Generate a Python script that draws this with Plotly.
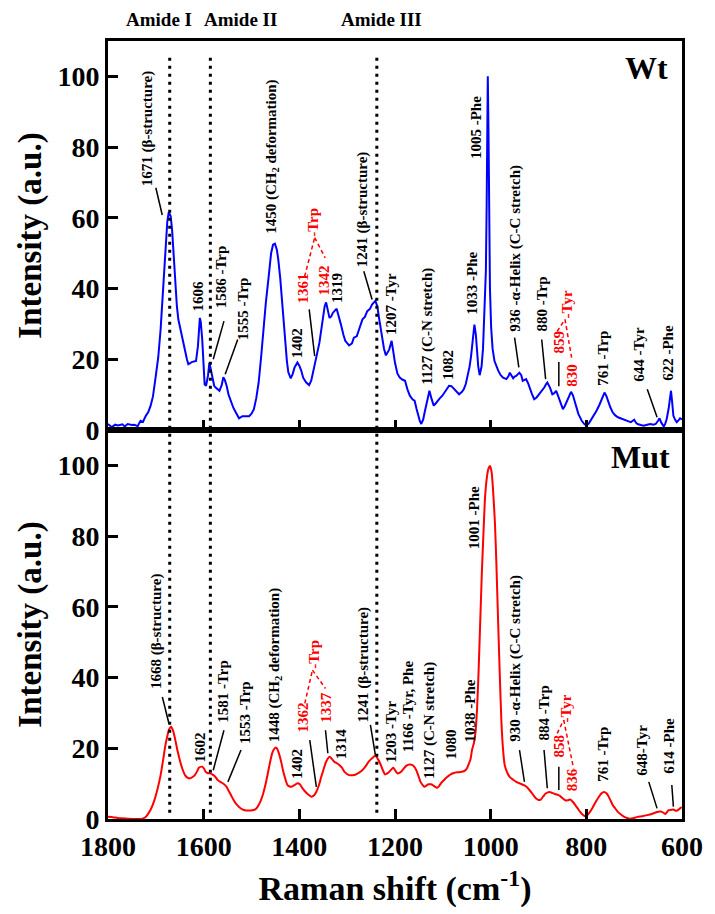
import plotly.graph_objects as go

# ---------------- data ----------------
wt_shift = [1800, 1792, 1785, 1779, 1770, 1765, 1759, 1750, 1745, 1738, 1732, 1727, 1721, 1716, 1711, 1706,
            1701, 1695, 1690, 1685, 1680, 1676, 1673, 1669, 1666, 1660, 1656, 1653, 1648, 1644, 1639, 1635,
            1632, 1628, 1625, 1616, 1612, 1608, 1606, 1603, 1600, 1598, 1595, 1591, 1588, 1585, 1582, 1578,
            1575, 1567, 1562, 1559, 1556, 1552, 1548, 1543, 1538, 1533, 1526, 1519, 1512, 1505, 1500, 1495,
            1490, 1485, 1480, 1475, 1470, 1464, 1459, 1455, 1451, 1447, 1444, 1440, 1437, 1433, 1430, 1426,
            1423, 1418, 1414, 1410, 1404, 1400, 1396, 1392, 1386, 1379.5, 1375, 1371, 1364, 1358, 1351, 1347,
            1344, 1340, 1337, 1333, 1330, 1322, 1318, 1313, 1308, 1304, 1296, 1290, 1286, 1280, 1275, 1268,
            1263, 1258, 1252, 1248, 1241, 1237, 1234, 1230, 1227, 1223, 1219, 1212, 1207, 1204, 1200, 1195,
            1190, 1184, 1179, 1174, 1169, 1163, 1159, 1155, 1152, 1148, 1145, 1141, 1138, 1133, 1128, 1124,
            1119, 1115, 1111, 1106, 1101, 1094, 1087, 1082, 1077, 1072, 1066, 1060, 1056, 1052, 1048, 1044,
            1041, 1037, 1034, 1031, 1029, 1026, 1023, 1019, 1016, 1013, 1010, 1008.5, 1007.5, 1006, 1004.5,
            1003, 1001.5, 999, 996, 992, 988, 984, 979, 974, 967, 963, 960, 956, 953, 950, 946.6, 943, 940,
            936, 933, 929, 926, 922, 919, 914, 909, 904, 899, 893, 888, 884, 881.5, 876, 871, 867, 863, 860,
            856, 852, 849, 845, 840, 836, 832, 828, 825, 820, 816.5, 812, 809.6, 805, 800, 795, 789, 784, 779,
            773, 768.5, 765, 762, 758, 755, 750, 745, 740, 734, 727, 720, 713, 707, 703, 700, 696, 693, 686,
            680, 673, 666, 660, 655, 650, 647, 643, 638, 635, 632, 628, 625, 623, 621, 618, 614, 611, 607,
            604, 600]
wt_intensity = [1.7, 0.8, 1.5, 1.3, 1.6, 1.0, 1.7, 1.4, 1.5, 1.1, 2.6, 2.3, 4.0, 5.0, 6.8, 9.5,
                14.4, 20.5, 28.5, 40.0, 52.0, 59.0, 61.6, 60.5, 56.6, 42.5, 35.0, 31.3, 28.0, 25.6, 22.8, 20.0,
                18.6, 19.0, 19.2, 19.5, 23.7, 31.7, 30.5, 25.6, 17.0, 12.9, 12.5, 15.3, 19.0, 17.0, 14.4, 12.5,
                12.0, 11.1, 12.8, 14.9, 14.2, 12.5, 10.0, 7.8, 6.3, 5.0, 3.3, 3.9, 3.8, 3.9, 4.6, 5.9,
                9.0, 13.5, 20.5, 28.5, 36.0, 43.5, 50.0, 52.4, 52.7, 51.0, 48.2, 43.0, 37.9, 31.0, 24.8, 19.5,
                16.3, 14.6, 15.8, 17.7, 19.1, 18.2, 16.8, 14.8, 13.5, 12.7, 14.0, 16.3, 20.9, 24.7, 31.3, 35.0,
                36.1, 33.5, 31.7, 32.2, 33.1, 34.3, 32.5, 29.8, 27.0, 25.2, 23.9, 24.5, 26.1, 26.5, 28.5, 31.3,
                32.0, 33.6, 34.3, 35.5, 36.5, 35.0, 32.2, 28.5, 25.6, 23.0, 21.1, 22.8, 25.2, 22.0, 19.0, 16.0,
                14.8, 14.2, 13.9, 11.5, 9.7, 8.6, 8.3, 6.0, 4.1, 2.5, 1.7, 3.0, 5.0, 8.5, 11.1, 9.0,
                6.9, 7.5, 8.3, 9.0, 9.7, 11.0, 12.5, 12.4, 11.6, 10.8, 10.1, 10.8, 11.6, 13.0, 15.3, 18.0,
                20.9, 26.0, 29.8, 27.0, 22.8, 18.0, 15.5, 18.0, 23.0, 32.0, 45.0, 62.0, 82.0, 100.0, 84.0,
                62.0, 40.0, 29.0, 23.0, 19.5, 17.8, 16.7, 15.5, 14.8, 14.4, 15.2, 16.2, 15.2, 14.6, 15.1, 15.3, 15.8, 16.2,
                15.5, 13.9, 14.2, 14.4, 13.3, 12.0, 10.3, 8.7, 9.2, 10.1, 11.0, 12.0, 13.0, 13.4, 12.0, 10.1, 10.4, 11.1, 10.0,
                8.7, 7.0, 5.9, 6.8, 8.2, 9.8, 10.8, 9.8, 8.2, 6.2, 4.5, 3.3, 2.6, 1.8, 1.2, 1.8, 3.1, 4.1, 5.4,
                7.0, 8.7, 10.0, 10.6, 9.6, 8.2, 6.5, 5.0, 4.2, 3.6, 3.3, 2.9, 2.5, 2.2, 2.7, 2.9, 2.0, 1.7, 1.4,
                1.2, 1.5, 1.7, 1.5, 1.7, 2.6, 3.3, 2.0, 1.0, 1.8, 3.1, 6.0, 9.5, 11.1, 8.5, 4.0, 2.8, 2.2, 2.8,
                3.3, 3.0]

mut_shift = [1800, 1790, 1780, 1773, 1760, 1745, 1735, 1728, 1722, 1718, 1711, 1704, 1697, 1690, 1685, 1680,
             1676, 1673, 1668, 1664, 1660, 1655, 1649, 1644, 1639, 1634, 1629, 1624, 1618.5, 1614, 1610, 1603,
             1599, 1596, 1592, 1588, 1583, 1579.5, 1575, 1570.6, 1565, 1560, 1552, 1548, 1543, 1538, 1533, 1526,
             1519, 1512, 1505.5, 1498, 1492, 1487, 1481.5, 1476, 1471, 1466, 1461, 1457, 1454, 1449, 1446, 1442.5,
             1438, 1433.6, 1429, 1424.7, 1420, 1416.5, 1410, 1404, 1399, 1392.5, 1386, 1380, 1374.7, 1369, 1364.4, 1359,
             1354, 1349, 1344, 1337, 1332, 1327, 1322, 1316.5, 1311, 1306, 1301, 1296, 1289, 1282, 1275, 1268.5,
             1262, 1255, 1248, 1241, 1236, 1231, 1226, 1220.6, 1216, 1211.7, 1207, 1203.5, 1199, 1194.6, 1190, 1186.3,
             1181, 1176, 1170, 1164.4, 1160, 1155.5, 1151, 1146.6, 1142, 1138.4, 1134, 1129.5, 1125, 1121, 1116, 1112,
             1108, 1104, 1099, 1094, 1088, 1083.6, 1077, 1070, 1063, 1056, 1051, 1046, 1042, 1039, 1035, 1032,
             1028.5, 1025.4, 1022, 1018.5, 1015, 1011.7, 1008, 1004.8, 1001.4, 998, 995, 991, 988, 984.3, 981, 977.4,
             974, 970.6, 965, 960.3, 953, 946.6, 938, 929.5, 924, 919, 912, 905, 900, 895.3, 890, 885,
             876.8, 870, 864.4, 859, 854, 849, 844, 839, 833.6, 828, 823, 818, 813, 808, 802.8, 797,
             792.5, 787, 782.2, 775, 768.6, 764, 761.7, 758, 754.9, 750, 744.6, 739, 734.3, 727, 720.6, 715,
             710.3, 700, 693.2, 683, 672.7, 662, 652, 645, 641.8, 638, 635, 631, 628, 622, 617.9, 612.4,
             608, 604.2, 600.8]
mut_intensity = [0.65, 0.5, 0.3, 0.2, 0.1, 0.0, 0.0, 0.1, 0.5, 1.1, 2.6, 4.9, 8.2, 12.4, 16.5, 20.9,
                 23.4, 25.1, 26.1, 25.0, 22.8, 19.5, 16.2, 14.0, 12.4, 11.7, 11.5, 11.8, 12.4, 13.4, 14.5, 14.8,
                 14.2, 13.4, 13.0, 12.9, 12.7, 12.4, 11.8, 11.0, 10.5, 10.1, 9.1, 8.0, 6.8, 5.5, 4.4, 3.4,
                 2.7, 2.4, 2.4, 2.5, 2.7, 3.5, 4.9, 7.0, 9.6, 12.8, 16.2, 18.5, 19.5, 20.2, 19.8, 18.5,
                 16.2, 13.4, 11.2, 9.6, 9.2, 9.1, 9.6, 10.1, 9.8, 8.5, 7.5, 6.8, 6.3, 6.7, 7.7, 9.6,
                 12.0, 14.2, 16.2, 17.6, 17.0, 16.2, 15.8, 15.3, 14.5, 13.4, 12.8, 12.4, 12.4, 12.6, 13.1, 13.8,
                 14.8, 16.2, 17.2, 17.9, 17.0, 15.7, 14.0, 12.6, 12.9, 13.4, 14.1, 14.5, 13.6, 12.9, 13.1, 13.5,
                 14.4, 15.1, 15.4, 15.3, 14.8, 13.8, 12.2, 10.5, 9.6, 9.1, 9.5, 9.8, 9.8, 9.6, 9.1, 8.8,
                 9.3, 10.1, 10.8, 11.5, 12.2, 12.6, 13.0, 13.2, 13.3, 13.5, 14.0, 15.5, 17.0, 19.5, 21.5, 24.2,
                 31.0, 41.2, 55.0, 69.4, 81.0, 91.0, 96.5, 99.0, 99.8, 98.1, 93.0, 83.5, 72.0, 55.3, 41.0, 27.0,
                 19.5, 15.2, 13.0, 11.9, 11.1, 10.5, 10.0, 9.5, 9.0, 8.2, 7.0, 5.8, 5.4, 5.5, 6.4, 7.2,
                 7.6, 7.3, 7.0, 6.8, 6.4, 5.8, 5.3, 5.3, 5.5, 4.8, 3.9, 3.0, 2.0, 1.3, 0.8, 1.2,
                 2.0, 3.2, 4.4, 6.0, 7.2, 7.6, 7.6, 7.3, 6.7, 5.4, 3.9, 2.9, 2.0, 1.2, 0.6, 0.3,
                 0.1, 0.3, 0.6, 0.8, 1.1, 1.5, 2.0, 2.1, 2.0, 1.7, 1.4, 2.0, 2.5, 2.6, 2.7, 2.3,
                 2.6, 3.0, 3.4]

x_ticks = [1800, 1600, 1400, 1200, 1000, 800, 600]
y_ticks = [0, 20, 40, 60, 80, 100]
amide_lines = [1671, 1586, 1238]
amide_names = ["Amide I", "Amide II", "Amide III"]

# label text, x (cm-1), bottom y of rotated text, colour
wt_labels = [
    ("1671 (β-structure)", 1718, 68.7, "black"),
    ("1606", 1611, 33.2, "black"),
    ("1586 -Trp", 1563, 34.1, "black"),
    ("1555 -Trp", 1516, 25.2, "black"),
    ("1450 (CH<sub>2</sub> deformation)", 1457, 55.2, "black"),
    ("1402", 1405, 20.0, "black"),
    ("1361", 1392, 35.5, "red"),
    ("-Trp", 1372, 54.4, "red"),
    ("1342", 1349, 37.7, "red"),
    ("1319", 1320, 35.5, "black"),
    ("1241 (β-structure)", 1268, 45.9, "black"),
    ("1207 -Tyr", 1208, 26.6, "black"),
    ("1127 (C-N stretch)", 1132, 12.5, "black"),
    ("1082", 1089, 13.9, "black"),
    ("1033 -Phe", 1039, 32.2, "black"),
    ("1005 -Phe", 1032, 76.3, "black"),
    ("936 -α-Helix (C-C stretch)", 948, 27.5, "black"),
    ("880 -Trp", 892, 27.5, "black"),
    ("859", 858, 21.4, "red"),
    ("-Tyr", 840, 31.3, "red"),
    ("830", 830, 12.1, "red"),
    ("761 -Trp", 765, 12.1, "black"),
    ("644 -Tyr", 690, 13.5, "black"),
    ("622 -Phe", 628, 13.5, "black"),
]
mut_labels = [
    ("1668 (β-structure)", 1700, 36.4, "black"),
    ("1602", 1607.5, 15.7, "black"),
    ("1581 -Trp", 1560, 27.0, "black"),
    ("1553 -Trp", 1515, 20.9, "black"),
    ("1448 (CH<sub>2</sub> deformation)", 1451, 21.4, "black"),
    ("1402", 1405, 11.0, "black"),
    ("1362", 1392, 24.2, "red"),
    ("-Trp", 1371, 42.1, "red"),
    ("1337", 1345, 27.0, "red"),
    ("1314", 1311, 16.7, "black"),
    ("1241 (β-structure)", 1265, 27.0, "black"),
    ("1203 -Tyr", 1208, 15.7, "black"),
    ("1166 -Tyr, Phe", 1173, 18.6, "black"),
    ("1127 (C-N stretch)", 1128, 11.0, "black"),
    ("1080", 1084, 16.7, "black"),
    ("1038 -Phe", 1044, 21.4, "black"),
    ("1001 -Phe", 1036, 76.0, "black"),
    ("930 -α-Helix (C-C stretch)", 947, 21.4, "black"),
    ("884 -Trp", 888.5, 21.8, "black"),
    ("858", 858, 17.1, "red"),
    ("-Tyr", 842.5, 27.0, "red"),
    ("836", 830, 7.7, "red"),
    ("761 -Trp", 765, 10.1, "black"),
    ("648-Tyr", 683, 11.9, "black"),
    ("614 -Phe", 626, 12.4, "black"),
]
# leader lines (x0, y0, x1, y1)
wt_leaders = [(1700, 68.5, 1686.6, 60.8), (1557.6, 30.8, 1580, 20.0), (1528.8, 25.6, 1555, 15.8),
              (1379.4, 34.1, 1367.9, 20.9), (1265.2, 44.9, 1247.9, 36.9), (950, 26.1, 941.1, 17.7),
              (893.3, 25.6, 885.1, 14.4), (857.5, 19.2, 857.5, 12.4), (672.6, 11.5, 652.1, 3.6)]
mut_leaders = [(1686.4, 34.5, 1672.6, 27.0), (1557.6, 25.1, 1580, 13.8), (1522, 19.5, 1549.3, 10.5),
               (1378.2, 22.3, 1364.4, 9.1), (1345.3, 25.1, 1340.4, 18.6), (1251.4, 26.6, 1241.1, 18.1),
               (939.7, 19.5, 929.4, 10.5), (888.4, 19.5, 881.6, 8.7), (857.5, 14.8, 857.5, 8.2),
               (669.4, 10.5, 652.1, 3.0), (621.3, 9.6, 618, 3.5)]
wt_red = [[(1389, 43.4), (1367.9, 54.4), (1345.9, 48.7)], [(861, 27.9), (844.6, 31.3), (830.2, 20.0)]]
mut_red = [[(1388.5, 32.7), (1372.6, 42.1), (1345.3, 36.9)], [(861, 24.2), (847.3, 28.0), (826.7, 14.3)]]

FONT = "Liberation Serif"

fig = go.Figure()
fig.add_trace(go.Scatter(x=wt_shift, y=wt_intensity, mode="lines",
                         line=dict(color="#0000ff", width=2), xaxis="x", yaxis="y", showlegend=False))
fig.add_trace(go.Scatter(x=mut_shift, y=mut_intensity, mode="lines",
                         line=dict(color="#ff0000", width=2, shape="spline", smoothing=0.6),
                         xaxis="x2", yaxis="y2", showlegend=False))

axis_common = dict(showline=True, linecolor="black", linewidth=3, mirror=True, ticks="inside",
                   ticklen=10, tickwidth=3, tickcolor="black", showgrid=False, zeroline=False,
                   tickfont=dict(family=FONT, size=28, color="black", weight="bold"))
title_font = dict(family=FONT, size=33, color="black", weight="bold")

fig.update_layout(
    width=715, height=914, plot_bgcolor="white", paper_bgcolor="white",
    margin=dict(l=108, r=23, t=41, b=95),
    xaxis=dict(axis_common, domain=[0, 1], range=[1800, 600], tickvals=x_ticks,
               showticklabels=False, anchor="y"),
    yaxis=dict(axis_common, domain=[0.5, 1], range=[0, 110], tickvals=y_ticks, anchor="x",
               title=dict(text="Intensity (a.u.)", font=title_font, standoff=6)),
    xaxis2=dict(axis_common, domain=[0, 1], range=[1800, 600], tickvals=x_ticks, anchor="y2",
                title=dict(text="Raman shift (cm<sup>-1</sup>)",
                           font=dict(family=FONT, size=34, color="black", weight="bold"), standoff=16)),
    yaxis2=dict(axis_common, domain=[0, 0.5], range=[0, 110], tickvals=y_ticks, anchor="x2",
                title=dict(text="Intensity (a.u.)", font=title_font, standoff=6)),
)

annotations = []
shapes = []
for labels, xr, yr in ((wt_labels, "x", "y"), (mut_labels, "x2", "y2")):
    for text, xv, yv, col in labels:
        annotations.append(dict(text=text, x=xv, y=yv, xref=xr, yref=yr, textangle=-90,
                                xanchor="center", yanchor="bottom", showarrow=False, borderpad=0,
                                font=dict(family=FONT, size=15, color=col, weight="bold")))
for leaders, xr, yr in ((wt_leaders, "x", "y"), (mut_leaders, "x2", "y2")):
    for x0, y0, x1, y1 in leaders:
        shapes.append(dict(type="line", x0=x0, y0=y0, x1=x1, y1=y1, xref=xr, yref=yr,
                           line=dict(color="black", width=1.5)))
for groups, xr, yr in ((wt_red, "x", "y"), (mut_red, "x2", "y2")):
    for pts in groups:
        for (a, b), (c, d) in zip(pts[:-1], pts[1:]):
            shapes.append(dict(type="line", x0=a, y0=b, x1=c, y1=d, xref=xr, yref=yr,
                               line=dict(color="red", width=1.5, dash="4px,3px")))
for xv in amide_lines:
    shapes.append(dict(type="line", x0=xv, x1=xv, y0=0.008, y1=0.985, xref="x", yref="paper",
                       line=dict(color="black", width=3, dash="3px,5px")))

amide_label_x = [1693, 1522, 1229]
for name, xv in zip(amide_names, amide_label_x):
    annotations.append(dict(text=name, x=xv, y=1.027, xref="x", yref="paper", showarrow=False,
                            xanchor="center", yanchor="middle",
                            font=dict(family=FONT, size=19, color="black", weight="bold")))
annotations.append(dict(text="Wt", x=625, y=102.3, xref="x", yref="y", showarrow=False,
                        xanchor="right", yanchor="middle",
                        font=dict(family=FONT, size=32, color="black", weight="bold")))
annotations.append(dict(text="Mut", x=621, y=102.3, xref="x2", yref="y2", showarrow=False,
                        xanchor="right", yanchor="middle",
                        font=dict(family=FONT, size=32, color="black", weight="bold")))

fig.update_layout(annotations=annotations, shapes=shapes)
fig.write_html("out.html")
